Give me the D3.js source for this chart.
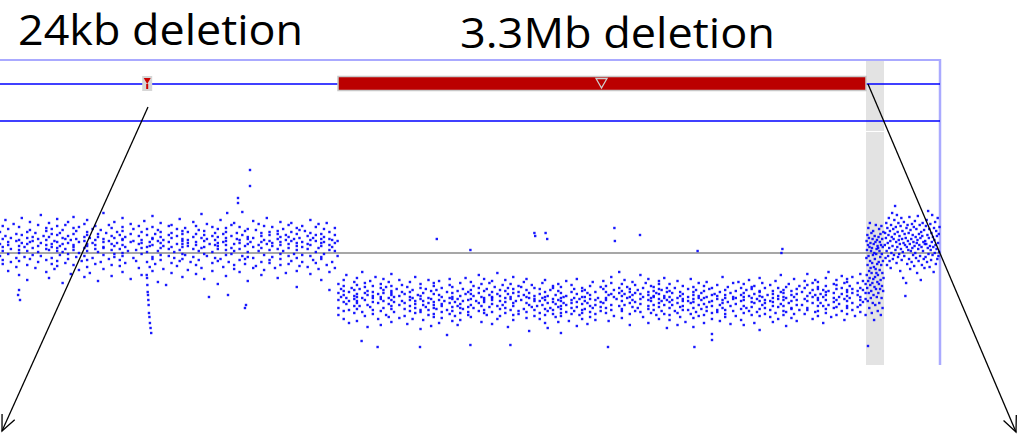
<!DOCTYPE html>
<html><head><meta charset="utf-8">
<script src="https://cdn.jsdelivr.net/npm/d3@7"></script>
<style>html,body{margin:0;padding:0;background:#fff;overflow:hidden}</style>
</head><body>
<svg id="c" width="1026" height="437"></svg>
<script>
// ---- data (positions in Mb relative to view start, log2 ratio values in hundredths) ----
const viewRange = [0, 5.875];
const labels = ["24kb deletion", "3.3Mb deletion"];
const delStarts = [0.908, 2.1125];
const delEnds = [0.932, 5.4125];
const highlightRange = [5.4125, 5.525];
const segStarts = [0.0, 2.115, 5.415, 5.53];
const segEnds = [2.11, 5.41, 5.522, 5.872];

// probes per probe cluster (consecutive values sharing one position)
const seg1Cols = [
3,6,2,5,3,1,4,7,3,2,6,4,4,2,5,3,1,7,4,6,2,8,3,5,4,
5,2,7,3,4,1,6,8,2,3,5,4,2,7,1,3,6,5,2,4,9,3,1,4,3,
2,4,6,1,5,3,8,2,4,7,3,1,5,6,2,4,3,9,2,5,1,4,6,3,4,
6,3,1,5,4,7,2,3,8,1,4,5,2,6,3,4,7,1,5,2,3,6,4,2,6,
4,1,5,7,2,3,6,4,2,8,3,5,1,4,6,2,5,3,7,4,2,6,3,5,2];
const seg2Cols = [
5,2,7,3,4,1,6,8,2,3,5,4,2,7,1,3,6,5,2,4,9,3,1,4,3,
4,2,6,3,5,1,7,4,2,5,3,8,2,4,6,1,3,5,7,2,4,6,3,2,5,
6,3,1,5,4,7,2,3,8,1,4,5,2,6,3,4,7,1,5,2,3,6,4,2,6,
1,5,3,7,4,2,6,3,5,9,2,4,1,6,3,5,2,7,4,3,6,2,5,1,4,
3,6,2,5,3,1,4,7,3,2,6,4,4,2,5,3,1,7,4,6,2,8,3,5,4,
7,3,2,5,4,6,1,4,3,8,2,5,3,6,4,2,7,1,5,3,4,6,2,3,4,
4,1,5,7,2,3,6,4,2,8,3,5,1,4,6,2,5,3,7,4,2,6,3,5,2,
2,4,6,1,5,3,8,2,4,7,3,1,5,6,2,4,3,9,2,5,1,4,6,3,4];

const seg1Vals = [
9,-3,21,14,-11,6,27,2,-7,17,33,-1,11,-18,8,24,4,-9,15,29,-5,12,19,-14,7,
3,26,-8,13,0,-22,18,10,35,-4,6,21,-12,15,2,9,-27,23,11,-6,31,5,16,-2,12,
-15,20,7,28,-9,14,1,38,10,-3,17,-19,4,25,13,-7,8,22,-25,16,3,30,-11,9,19,
6,-5,24,12,-16,2,18,34,-8,11,27,5,-13,20,7,-2,15,-30,9,23,1,14,-10,28,4,
17,-6,10,31,-1,13,-21,8,25,3,19,-12,6,36,-4,14,22,-17,11,0,26,-8,16,5,-24,
12,29,-3,7,18,-14,21,9,-7,33,2,15,-20,10,24,-5,13,4,-11,27,8,-28,19,1,16,
-9,23,6,14,-2,40,11,-16,5,20,-6,12,28,-23,9,17,3,-12,25,7,-4,15,31,-1,10,
21,-13,4,18,-7,26,13,0,-19,8,22,14,-3,35,6,-10,16,2,29,-26,11,19,-5,12,24,
3,-8,17,9,-15,27,5,13,-1,21,-22,10,32,6,-9,18,1,24,-14,11,7,37,-6,15,-18,
14,26,-4,8,19,-11,2,23,12,-29,16,5,-7,30,10,-2,21,-16,7,13,-32,18,4,27,-3,
11,-10,20,6,-20,15,28,1,-5,17,9,-13,24,3,34,-8,12,19,-1,6,-24,22,14,-6,9,
25,-2,13,-17,7,21,10,-9,31,4,16,-4,8,-21,19,27,-12,11,2,23,-7,15,39,-15,5,
-1,18,12,-26,22,6,14,-3,29,9,-10,17,1,-18,26,8,13,-5,20,-31,10,4,24,-8,16,
7,33,-6,11,19,-14,3,25,-2,15,8,-23,21,12,-9,28,5,-1,17,-16,9,30,2,-12,14,
20,-7,10,4,-19,26,13,-3,18,41,-11,7,22,-6,14,1,-28,16,9,24,-4,11,-15,32,6,
-5,15,23,-13,8,2,29,-9,17,11,-22,20,5,-2,27,13,-17,9,35,-7,12,3,21,-10,18,
10,-4,26,7,-15,14,19,-25,4,22,-1,16,8,31,-12,11,-6,24,2,18,-20,13,28,-3,9,
16,-11,5,21,-8,30,12,-1,14,-18,25,7,-34,19,3,10,-5,23,15,-13,6,27,-2,11,-9,
22,4,-14,17,9,-3,33,13,-21,8,20,-7,15,1,26,-10,12,18,-16,5,29,-4,14,-27,10,
7,19,-6,24,11,-1,16,-12,30,3,-19,14,8,-37,21,6,13,-9,18,2,25,-15,10,-3,12];

const seg2Vals = [
-40,-55,-31,-47,-62,-36,-44,-27,-58,-49,-38,-66,-42,-33,-51,-45,-22,-57,-39,-48,-70,-35,-53,-43,-29,
-46,-60,-37,-50,-25,-44,-56,-32,-41,-68,-48,-36,-53,-19,-45,-59,-40,-34,-63,-47,-30,-52,-42,-74,-38,
-54,-28,-43,-61,-39,-49,-33,-57,-45,-24,-66,-41,-50,-35,-58,-46,-31,-72,-44,-37,-55,-26,-48,-40,-62,
-34,-51,-45,-29,-64,-42,-38,-56,-21,-47,-53,-40,-69,-33,-49,-44,-59,-36,-27,-52,-43,-65,-39,-48,-32,
-50,-63,-41,-56,-34,-71,-47,-39,-58,-44,-29,-53,-66,-45,-37,-60,-51,-24,-48,-55,-42,-76,-46,-35,-57,
-43,-59,-31,-52,-48,-67,-40,-54,-36,-62,-45,-27,-57,-50,-38,-73,-46,-33,-55,-61,-41,-49,-30,-64,-52,
-37,-56,-47,-70,-42,-28,-59,-51,-44,-65,-35,-53,-48,-82,-39,-57,-45,-32,-61,-50,-26,-54,-46,-68,-40,
-58,-44,-34,-63,-49,-53,-38,-72,-46,-55,-30,-60,-43,-51,-67,-36,-48,-56,-41,-25,-62,-47,-54,-39,-59,
-41,-29,-52,-46,-37,-64,-43,-33,-55,-48,-22,-58,-40,-50,-35,-69,-44,-31,-53,-47,-60,-38,-45,-26,-57,
-49,-36,-62,-42,-54,-30,-47,-71,-39,-51,-44,-28,-59,-45,-34,-66,-41,-53,-20,-48,-56,-37,-43,-63,-32,
-52,-45,-27,-60,-38,-49,-55,-41,-74,-35,-46,-57,-31,-44,-62,-50,-24,-53,-40,-67,-36,-48,-58,-33,-43,
-39,-61,-47,-34,-56,-42,-29,-65,-50,-44,-37,-59,-26,-52,-45,-78,-40,-54,-32,-48,-63,-43,-35,-57,-46,
-53,-41,-66,-48,-36,-60,-45,-52,-30,-70,-47,-56,-39,-62,-44,-27,-58,-50,-43,-75,-37,-55,-49,-33,-61,
-46,-57,-35,-64,-51,-42,-69,-38,-54,-47,-31,-60,-45,-53,-80,-40,-56,-48,-34,-63,-44,-50,-28,-59,-52,
-43,-68,-39,-55,-47,-32,-61,-50,-45,-58,-36,-73,-49,-41,-54,-26,-62,-46,-57,-38,-66,-51,-44,-35,-60,
-48,-37,-56,-44,-71,-50,-40,-59,-33,-53,-46,-64,-42,-55,-29,-61,-47,-52,-39,-67,-45,-58,-34,-49,-54,
-36,-50,-28,-45,-60,-39,-47,-33,-55,-42,-68,-30,-52,-41,-24,-57,-44,-37,-63,-46,-35,-53,-40,-19,-58,
-43,-31,-56,-48,-38,-65,-41,-27,-52,-45,-34,-61,-39,-50,-44,-72,-36,-47,-29,-54,-42,-58,-32,-49,-40,
-55,-37,-46,-22,-59,-41,-51,-35,-64,-44,-30,-53,-47,-39,-70,-42,-26,-56,-45,-33,-60,-48,-38,-52,-43,
-34,-57,-44,-62,-40,-28,-50,-46,-36,-66,-41,-54,-31,-48,-58,-37,-45,-25,-61,-43,-52,-39,-75,-47,-35,
-49,-62,-38,-55,-44,-31,-67,-47,-52,-40,-58,-35,-72,-45,-50,-28,-60,-43,-54,-39,-64,-48,-33,-57,-46,
-41,-53,-69,-36,-48,-57,-44,-26,-61,-50,-39,-65,-46,-34,-55,-42,-74,-49,-37,-59,-45,-30,-52,-63,-43,
-56,-40,-47,-33,-62,-51,-45,-70,-38,-54,-29,-58,-44,-49,-36,-66,-42,-53,-60,-35,-48,-81,-41,-57,-46,
-32,-59,-43,-52,-39,-68,-47,-55,-24,-50,-61,-42,-37,-57,-45,-64,-34,-49,-53,-40,-71,-46,-30,-58,-44,
-51,-38,-63,-45,-29,-56,-42,-48,-35,-67,-44,-53,-31,-60,-47,-40,-72,-37,-55,-43,-27,-58,-49,-34,-62,
-45,-54,-36,-70,-41,-50,-33,-59,-46,-25,-63,-48,-39,-56,-43,-77,-38,-52,-44,-30,-61,-47,-55,-35,-50,
-42,-64,-48,-32,-57,-45,-53,-38,-69,-41,-49,-28,-60,-46,-35,-54,-43,-66,-39,-51,-22,-58,-44,-37,-62,
-53,-40,-47,-59,-34,-73,-45,-50,-31,-56,-42,-65,-38,-48,-55,-26,-61,-44,-52,-36,-68,-47,-41,-57,-33,
-39,-52,-28,-46,-61,-35,-43,-57,-32,-48,-21,-55,-40,-66,-37,-44,-50,-30,-59,-42,-27,-53,-36,-47,-63,
-34,-45,-58,-29,-50,-41,-70,-37,-53,-44,-25,-60,-39,-47,-33,-56,-42,-19,-52,-38,-64,-45,-31,-49,-55,
-40,-27,-54,-36,-47,-62,-32,-44,-51,-23,-58,-41,-35,-67,-46,-30,-53,-39,-48,-26,-61,-43,-37,-55,-29,
-45,-33,-57,-40,-24,-50,-36,-63,-42,-30,-54,-38,-47,-21,-59,-35,-44,-52,-28,-49,-37,-62,-31,-46,-40];

const seg3Vals = [
-5,12,-22,3,-35,18,-12,-48,8,-28,25,-3,-40,15,-18,-55,6,-25,30,-8,
-32,10,-15,-45,2,-38,20,-20,-60,5,-10,-30,14,-50,-2,22,-26,-42,9,-14,
-67,0,-34,17,-6,-24,-52,11,-16,28,-36,-1,-20,4,-44,13,-11,-29,7,-58,
-22,5,-40,16,-9,-31,24,-50,2,-17,11,-36,-4,19,-27,-62,8,-12,27,-45,
-1,-33,14,-20,-55,6,-8,-38,21,-25];

const seg4Vals = [
8,20,-5,15,30,2,-12,25,10,-3,18,35,5,-8,22,12,-15,28,0,16,
40,7,-6,24,14,-2,33,19,47,3,26,11,-10,38,6,21,-4,30,13,-1,
17,9,-18,27,4,35,-7,14,22,1,-25,10,31,-3,19,8,-43,15,-30,25,
6,-11,28,12,3,20,-6,36,9,-16,23,2,14,-9,29,5,18,-2,11,26,
-13,7,32,0,16,-5,24,10,-20,13,37,4,-8,19,8,28,-3,15,-27,21,
6,-12,17,30,2,11,-6,23,-15,9,12,-4,27,9,33,-9,18,5,42,-1,
15,24,-14,7,29,3,-7,20,11,38,-2,16,6,-19,25,13,0,31,8,-11,
22,4,17,-6,35,10,-3,19,1,26];

// individual probes read separately (small deletion column and outliers)
const extraPos = [0.917,0.919,0.921,0.923,0.925,0.927,0.929,0.931,0.934,0.937,0.941,0.945,
  1.5625,1.5625,1.4875,1.4875,1.42,0.125,0.113,0.119,1.306,1.5375,1.531,1.425,
  2.73,2.94,3.34,3.345,3.41,3.42,3.84,3.843,4.0,4.36,4.89,4.884,
  2.36,2.625,2.94,3.19,3.8,4.34,4.45,2.26,5.425];
const extraVals = [-22,-25,-32,-39,-42,-47,-52,-60,-64,-70,-75,-80,
  83,67,55,50,40,-47,-42,-37,-44,-52,-55,-42,
  14,3,20,17,20,14,25,12,18,2,4,0,
  -94,-94,-92,-92,-94,-94,-87,-88,-93];

// ---- drawing ----
const svg = d3.select("#c");
const x = d3.scaleLinear().domain(viewRange).range([0, 940]);
const y = d3.scaleLinear().domain([-2, 2]).range([453, 53]);

const points = [];
function place(vals, cols, st, en) {
  if (!cols) {
    const n = vals.length;
    vals.forEach((v, i) => points.push({pos: st + (en - st) * i / (n - 1), val: v / 100}));
    return;
  }
  const m = cols.length;
  let j = 0, c = 0;
  vals.forEach(v => {
    if (c >= cols[j] && j < m - 1) { j++; c = 0; }
    points.push({pos: st + (en - st) * j / (m - 1), val: v / 100});
    c++;
  });
}
place(seg1Vals, seg1Cols, segStarts[0], segEnds[0]);
place(seg2Vals, seg2Cols, segStarts[1], segEnds[1]);
place(seg3Vals, null, segStarts[2], segEnds[2]);
place(seg4Vals, null, segStarts[3], segEnds[3]);
extraPos.forEach((p, i) => points.push({pos: p, val: extraVals[i] / 100}));

// highlight band
svg.append("rect").attr("x", x(highlightRange[0])).attr("y", 60)
  .attr("width", x(highlightRange[1]) - x(highlightRange[0])).attr("height", 305)
  .attr("fill", "#e3e3e3");
svg.append("line").attr("x1", x(highlightRange[0])).attr("x2", x(highlightRange[1]))
  .attr("y1", 131.5).attr("y2", 131.5).attr("stroke", "#fff").attr("stroke-width", 1);

// frame
svg.append("line").attr("x1", 0).attr("x2", 941).attr("y1", 60).attr("y2", 60)
  .attr("stroke", "#aaaaff").attr("stroke-width", 2);
svg.append("line").attr("x1", 940).attr("x2", 940).attr("y1", 59).attr("y2", 365)
  .attr("stroke", "#aaaaff").attr("stroke-width", 2.5);

// track lines
svg.append("line").attr("x1", 0).attr("x2", x(delStarts[1])).attr("y1", 84).attr("y2", 84)
  .attr("stroke", "#0000ff").attr("stroke-width", 1.3);
svg.append("line").attr("x1", x(delEnds[1])).attr("x2", 940).attr("y1", 84).attr("y2", 84)
  .attr("stroke", "#0000ff").attr("stroke-width", 1.3);
svg.append("line").attr("x1", 0).attr("x2", 940).attr("y1", 121).attr("y2", 121)
  .attr("stroke", "#0000ff").attr("stroke-width", 1.3);

// baseline
svg.append("line").attr("x1", 0).attr("x2", 940).attr("y1", y(0)).attr("y2", y(0))
  .attr("stroke", "#8a8a8a").attr("stroke-width", 1.5);

// points
svg.append("g").selectAll("rect").data(points).join("rect")
  .attr("x", d => x(d.pos) - 1.2).attr("y", d => y(d.val) - 1.2)
  .attr("width", 2.4).attr("height", 2.4)
  .attr("fill", "#0000ff").attr("opacity", 0.9);

// big deletion bar
const bx0 = x(delStarts[1]), bx1 = x(delEnds[1]);
svg.append("rect").attr("x", bx0).attr("y", 76.5).attr("width", bx1 - bx0).attr("height", 14)
  .attr("fill", "#bb0000").attr("stroke", "#c8c8c8").attr("stroke-width", 1.5);
const tm = 601.5;
svg.append("path").attr("d", `M${tm-5.5},78.5 L${tm+5.5},78.5 L${tm},88 Z`)
  .attr("fill", "none").attr("stroke", "#cfcfcf").attr("stroke-width", 1.3);

// small deletion marker
const sm = x((delStarts[0] + delEnds[0]) / 2);
svg.append("rect").attr("x", sm - 5).attr("y", 76).attr("width", 10).attr("height", 15)
  .attr("fill", "#d6d6d6");
svg.append("path").attr("d", `M${sm-3.5},78 L${sm+3.5},78 L${sm},84 Z`).attr("fill", "#cc0000");
svg.append("rect").attr("x", sm - 1).attr("y", 84).attr("width", 2).attr("height", 5).attr("fill", "#cc0000");

// labels
svg.append("text").attr("x", 18).attr("y", 45).text(labels[0])
  .attr("font-family", "Open Sans").attr("font-size", 42)
  .attr("textLength", 285).attr("lengthAdjust", "spacingAndGlyphs").attr("fill", "#000");
svg.append("text").attr("x", 460).attr("y", 47.5).text(labels[1])
  .attr("font-family", "Open Sans").attr("font-size", 42)
  .attr("textLength", 315).attr("lengthAdjust", "spacingAndGlyphs").attr("fill", "#000");

// annotation arrows
function arrow(x1, y1, x2, y2) {
  svg.append("line").attr("x1", x1).attr("y1", y1).attr("x2", x2).attr("y2", y2)
    .attr("stroke", "#000").attr("stroke-width", 1.3);
  const a = Math.atan2(y2 - y1, x2 - x1), L = 17, w = 0.42;
  const p1 = [x2 - L * Math.cos(a - w), y2 - L * Math.sin(a - w)];
  const p2 = [x2 - L * Math.cos(a + w), y2 - L * Math.sin(a + w)];
  svg.append("path").attr("d", `M${p1} L${x2},${y2} L${p2}`)
    .attr("fill", "none").attr("stroke", "#000").attr("stroke-width", 1.3);
}
arrow(x(0.925), 107, 2, 431);
arrow(x(delEnds[1]) + 2, 84, 1016, 432);
</script>
</body></html>
